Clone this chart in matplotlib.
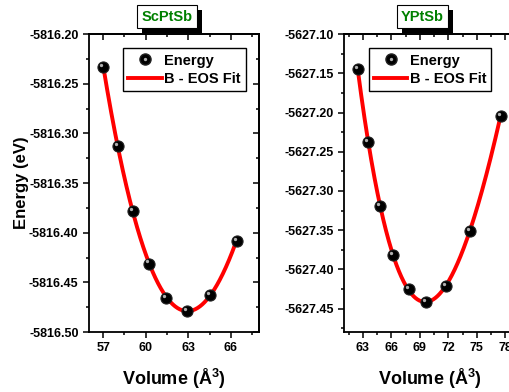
import numpy as np
import matplotlib
matplotlib.use("Agg")
import matplotlib.pyplot as plt
from matplotlib.ticker import MultipleLocator, FormatStrFormatter
from matplotlib.lines import Line2D
from matplotlib.legend_handler import HandlerTuple
import matplotlib.patheffects as pe

plt.rcParams['font.family'] = ['Liberation Sans', 'DejaVu Sans']
plt.rcParams['font.weight'] = 'bold'
plt.rcParams['mathtext.fontset'] = 'custom'
plt.rcParams['mathtext.bf'] = 'Liberation Sans:bold'
plt.rcParams['mathtext.rm'] = 'Liberation Sans:bold'

# --- data ---
sc_volume = [57.0, 58.04, 59.08, 60.21, 61.44, 62.9, 64.5, 66.4]
sc_energy = [-5816.233, -5816.3125, -5816.378, -5816.431, -5816.4655, -5816.4785, -5816.463, -5816.408]
y_volume = [62.46, 63.54, 64.8, 66.18, 67.8, 69.6, 71.7, 74.27, 77.5]
y_energy = [-5627.145, -5627.238, -5627.319, -5627.382, -5627.425, -5627.442, -5627.4215, -5627.351, -5627.204]
titles = ["ScPtSb", "YPtSb"]

fig = plt.figure(figsize=(5.10, 3.92), dpi=100)

def bm_fit(v, e):
    v = np.asarray(v); e = np.asarray(e)
    coef = np.polyfit(v ** (-2.0 / 3.0), e, 3)
    vv = np.linspace(v.min(), v.max(), 300)
    return vv, np.polyval(coef, vv ** (-2.0 / 3.0))

def panel(rect, vol, en, title, xlim, xmajor, ylim, ymajor, legx):
    ax = fig.add_axes(rect)
    vv, ee = bm_fit(vol, en)
    ax.plot(vv, ee, color='#ff0000', lw=2.8, zorder=2)
    ax.plot(vol, en, 'o', ms=8, mfc='black', mec='#222222', mew=0.8, zorder=3)
    dx = (xlim[1] - xlim[0]) * 0.011
    dy = (ylim[1] - ylim[0]) * 0.007
    ax.plot(np.asarray(vol) - dx, np.asarray(en) + dy, 'o',
            ms=2.4, mfc='#b0b0b0', mec='none', zorder=4)
    ax.set_xlim(*xlim)
    ax.set_ylim(*ylim)
    ax.xaxis.set_major_locator(MultipleLocator(xmajor))
    ax.xaxis.set_minor_locator(MultipleLocator(xmajor / 2))
    ax.yaxis.set_major_locator(MultipleLocator(ymajor))
    ax.yaxis.set_minor_locator(MultipleLocator(ymajor / 2))
    ax.yaxis.set_major_formatter(FormatStrFormatter('%.2f'))
    ax.xaxis.set_major_formatter(FormatStrFormatter('%d'))
    ax.tick_params(which='both', direction='out', top=False, right=False, labelsize=9, width=1.1)
    ax.tick_params(which='major', length=4)
    ax.tick_params(which='minor', length=2.5)
    sec_x = ax.secondary_xaxis('top')
    sec_x.xaxis.set_major_locator(MultipleLocator(xmajor))
    sec_x.xaxis.set_minor_locator(MultipleLocator(xmajor / 2))
    sec_x.tick_params(which='both', direction='in', labeltop=False, width=1.1)
    sec_x.tick_params(which='major', length=4)
    sec_x.tick_params(which='minor', length=2.5)
    sec_y = ax.secondary_yaxis('right')
    sec_y.yaxis.set_major_locator(MultipleLocator(ymajor))
    sec_y.yaxis.set_minor_locator(MultipleLocator(ymajor / 2))
    sec_y.tick_params(which='both', direction='in', labelright=False, width=1.1)
    sec_y.tick_params(which='major', length=4)
    sec_y.tick_params(which='minor', length=2.5)
    for s in list(ax.spines.values()) + [sec_x.spines['top'], sec_y.spines['right']]:
        s.set_linewidth(1.3)
    for lab in ax.get_xticklabels() + ax.get_yticklabels():
        lab.set_fontweight('bold')
    ax.set_xlabel('Volume (Å$^{\\mathbf{3}}$)', fontsize=13, fontweight='bold', labelpad=9)
    h_e = (Line2D([], [], ls='none', marker='o', ms=8, mfc='black', mec='#222222'),
           Line2D([], [], ls='none', marker='o', ms=2.4, mfc='#b0b0b0', mec='none'))
    h_f = Line2D([], [], color='#ff0000', lw=2.8)
    leg = ax.legend([h_e, h_f], ['Energy', 'B - EOS Fit'],
                    handler_map={tuple: HandlerTuple(ndivide=1)},
                    loc='upper left', bbox_to_anchor=(legx, 0.952), fancybox=False,
                    edgecolor='black', framealpha=1, prop={'weight': 'bold', 'size': 10.5},
                    handlelength=2.3, borderpad=0.35, labelspacing=0.3, handletextpad=0.15,
                    borderaxespad=0)
    leg.get_frame().set_linewidth(1.0)
    cx = rect[0] + rect[2] * 0.46
    fig.text(cx, 0.957, title, ha='center', va='center', color='#008000', fontsize=10.5,
             fontweight='bold',
             bbox=dict(boxstyle='square,pad=0.3', fc='white', ec='black', lw=0.8,
                       path_effects=[pe.withSimplePatchShadow(offset=(3.5, -3.5), shadow_rgbFace='black', alpha=1)]))
    return ax

ax1 = panel([0.1745, 0.153, 0.334, 0.760], sc_volume, sc_energy, titles[0],
            (56, 68), 3, (-5816.50, -5816.20), 0.05, 0.20)
ax1.set_ylabel('Energy (eV)', fontsize=12, fontweight='bold', labelpad=0)
ax2 = panel([0.6745, 0.153, 0.335, 0.760], y_volume, y_energy, titles[1],
            (61, 79), 3, (-5627.48, -5627.10), 0.05, 0.145)

fig.savefig('out.png', dpi=100)
